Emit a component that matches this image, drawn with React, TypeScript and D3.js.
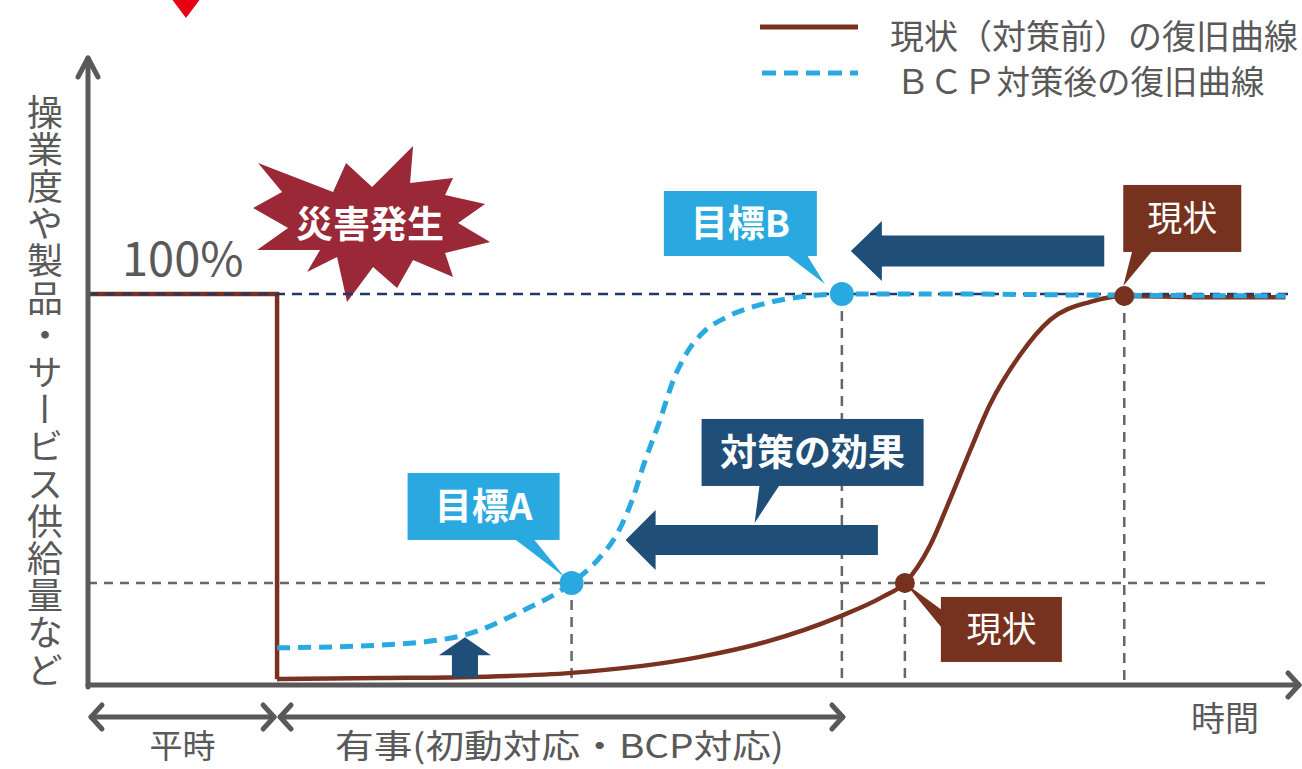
import React from 'react';
import * as d3 from 'd3';

const W = 1302;
const H = 769;

// time (arbitrary units) / operating level (%)
const disasterTime = 15.6;
const normalTime = [0, 15.6, 15.6];
const normalLevel = [100, 100, 1.5];

// 現状（対策前）の復旧曲線
const currentTime = [15.6, 24.1, 30.7, 39.9, 50.5, 56.0, 62.0, 65.6, 67.4, 69.5, 71.1, 72.8, 74.4, 76.9, 79.4, 82.7, 85.5, 91.7, 98.8];
const currentLevel = [1.5, 1.8, 2.0, 3.1, 7.2, 11.1, 17.5, 22.6, 26.1, 35.8, 47.3, 60.1, 71.6, 84.4, 93.4, 98.0, 99.5, 99.2, 99.2];

// ＢＣＰ対策後の復旧曲線
const bcpTime = [15.6, 24.1, 30.7, 35.6, 39.9, 42.2, 43.7, 44.9, 45.9, 47.2, 48.3, 49.4, 50.7, 52.7, 55.4, 58.2, 62.2, 71.1, 83.5, 98.8];
const bcpLevel = [9.5, 10.2, 12.5, 18.6, 26.1, 32.5, 38.9, 47.3, 56.8, 67.8, 78.0, 84.9, 90.0, 94.1, 97.2, 99.0, 100, 100, 99.7, 99.5];

// markers: 目標A, 目標B, 現状 (lower), 現状 (upper)
const markerLabels = ['目標A', '目標B', '現状', '現状'];
const markerTime = [39.9, 62.2, 67.4, 85.5];
const markerLevel = [26.1, 100, 26.1, 99.5];

const targetLevelA = 26.1;
const effectTime = 31.1;
const effectFrom = 1.9;
const effectTo = 12.2;

const legendLabels = ['現状（対策前）の復旧曲線', 'ＢＣＰ対策後の復旧曲線'];
const phaseLabels = ['平時', '有事(初動対応・BCP対応)'];
const yTitle = '操業度や製品・サービス供給量など';
const xTitle = '時間';

const C = {
  axis: '#595959',
  text: '#595959',
  brown: '#7A3220',
  brownBox: '#76321F',
  blue: '#29A9E0',
  navy: '#1F4E79',
  navyLine: '#1F3864',
  grid: '#666666',
  burst: '#9A2836',
  red: '#E60012',
};
const FONT = "'Noto Sans CJK JP', 'Noto Sans', sans-serif";

const x = d3.scaleLinear().domain([0, 100]).range([88, 1300]);
const y = d3.scaleLinear().domain([0, 100]).range([685, 294]);

const line = d3.line<[number, number]>().x(d => x(d[0])).y(d => y(d[1]));
const curve = d3.line<[number, number]>().x(d => x(d[0])).y(d => y(d[1])).curve(d3.curveMonotoneX);

const zip = (a: number[], b: number[]) => a.map((v, i) => [v, b[i]] as [number, number]);

// left-pointing block arrow
const leftArrow = (tip: number, end: number, cy: number, head: number, hh: number, bh: number) =>
  `M${tip},${cy} L${tip + head},${cy - hh} L${tip + head},${cy - bh} L${end},${cy - bh} L${end},${cy + bh} L${tip + head},${cy + bh} L${tip + head},${cy + hh} Z`;

const Callout = ({ bx, by, w, h, fill, tail, label, size, weight }: any) => (
  <g>
    <polygon points={tail.map((p: number[]) => p.join(',')).join(' ')} fill={fill} />
    <rect x={bx} y={by} width={w} height={h} fill={fill} />
    <text x={bx + w / 2} y={by + h / 2 + size * 0.36} textAnchor="middle" fill="#fff"
      fontSize={size} fontWeight={weight} fontFamily={FONT}>{label}</text>
  </g>
);

// starburst shape, relative to its centre
const burst = [
  [-112, -62], [-37, -33], [-24, -62], [2, -38], [43, -79], [40, -42], [83, -47], [75, -30],
  [115, -21], [88, -2], [120, 17], [75, 28], [83, 52], [43, 35], [27, 63], [3, 42],
  [-23, 77], [-33, 32], [-63, 47], [-50, 25], [-113, 25], [-82, 3], [-117, -17], [-88, -33],
];

export default function App() {
  const mx = markerTime.map(t => x(t));
  const my = markerLevel.map(v => y(v));
  const x0 = x(0), y0 = y(0), yTop = y(100);
  const xd = x(disasterTime);
  const bcx = xd + 93, bcy = yTop - 69;
  const bracketY = 717;

  const chevron = (px: number, py: number, dir: number) =>
    `M${px - dir * 11},${py - 12} L${px},${py} L${px - dir * 11},${py + 12}`;

  return (
    <svg width={W} height={H} style={{ position: 'absolute', left: 0, top: 0, background: '#fff' }}
      fontFamily={FONT}>
      {/* red marker at top */}
      <polygon points="171,-2 201,-2 186,18" fill={C.red} />

      {/* legend */}
      <line x1={760} x2={858} y1={27} y2={27} stroke={C.brown} strokeWidth={5} />
      <text x={890} y={49} fontSize={34} fill={C.text}>{legendLabels[0]}</text>
      <line x1={762} x2={858} y1={73} y2={73} stroke={C.blue} strokeWidth={5} strokeDasharray="14 8" />
      <text x={896} y={94} fontSize={33.5} fill={C.text}>{legendLabels[1]}</text>

      {/* y title */}
      <text x={45} y={94} fontSize={36} fill={C.text} style={{ writingMode: 'vertical-rl' } as any}
        letterSpacing={1.2}>{yTitle}</text>

      {/* reference dashed lines */}
      <line x1={x0} x2={x(97.5)} y1={y(targetLevelA)} y2={y(targetLevelA)} stroke={C.grid} strokeWidth={2.5} strokeDasharray="9 7" />
      {markerTime.map((t, i) => (
        <line key={i} x1={mx[i]} x2={mx[i]} y1={my[i]} y2={y0} stroke={C.grid} strokeWidth={2.5} strokeDasharray="10 7" />
      ))}

      {/* starburst */}
      <polygon points={burst.map(p => `${bcx + p[0]},${bcy + p[1]}`).join(' ')} fill={C.burst} />
      <text x={bcx} y={bcy + 13} textAnchor="middle" fontSize={37} fontWeight={700} fill="#fff">災害発生</text>

      {/* curves */}
      <path d={line(zip(normalTime, normalLevel)) || ''} fill="none" stroke={C.brown} strokeWidth={4.5} />
      <path d={curve(zip(currentTime, currentLevel)) || ''} fill="none" stroke={C.brown} strokeWidth={4.5} />
      <line x1={x0} x2={x(99.5)} y1={yTop} y2={yTop} stroke={C.navyLine} strokeWidth={2.5} strokeDasharray="10 7" />
      <path d={curve(zip(bcpTime, bcpLevel)) || ''} fill="none" stroke={C.blue} strokeWidth={5} strokeDasharray="13 8" />

      {/* 100% */}
      <text x={122} y={276} fontSize={47} fill={C.text}>100%</text>

      {/* axes */}
      <g stroke={C.axis} strokeWidth={5} fill="none" strokeLinecap="round" strokeLinejoin="round">
        <line x1={x0} x2={x0} y1={y0 + 2} y2={58} />
        <path d={`M${x0 - 10},${77} L${x0},${58} L${x0 + 10},${77}`} />
        <line x1={x0} x2={1299} y1={y0} y2={y0} />
        <path d={chevron(1299, y0, 1)} />
      </g>
      <text x={1191} y={731} fontSize={34} fill={C.text}>{xTitle}</text>

      {/* markers */}
      {markerTime.map((t, i) => (
        <circle key={i} cx={mx[i]} cy={my[i]} r={i < 2 ? 12 : 10} fill={i < 2 ? C.blue : C.brownBox} />
      ))}

      {/* up arrow: effect on initial level */}
      <path d={(() => {
        const cx = x(effectTime), b = y(effectFrom), t = y(effectTo);
        return `M${cx},${t} L${cx + 26},${t + 18} L${cx + 13},${t + 18} L${cx + 13},${b} L${cx - 13},${b} L${cx - 13},${t + 18} L${cx - 26},${t + 18} Z`;
      })()} fill={C.navy} />

      {/* effect arrows */}
      <path d={leftArrow(mx[0] + 54, mx[2] - 27, my[0] - 43, 30, 30, 15)} fill={C.navy} />
      <path d={leftArrow(mx[1] + 9, mx[3] - 20, my[1] - 43, 31, 30, 15.5)} fill={C.navy} />

      {/* callouts */}
      <Callout bx={mx[0] - 164} by={my[0] - 110} w={152} h={67} fill={C.blue} label={markerLabels[0]} size={37} weight={700}
        tail={[[mx[0] - 57, my[0] - 44], [mx[0] - 38, my[0] - 44], [mx[0] - 7, my[0] - 6]]} />
      <Callout bx={mx[1] - 178} by={my[1] - 103} w={153} h={65} fill={C.blue} label={markerLabels[1]} size={37} weight={700}
        tail={[[mx[1] - 55, my[1] - 39], [mx[1] - 35, my[1] - 39], [mx[1] - 17, my[1] - 10]]} />
      <Callout bx={mx[2] + 36} by={my[2] + 14} w={121} h={65} fill={C.brownBox} label={markerLabels[2]} size={35} weight={400}
        tail={[[mx[2], my[2]], [mx[2] + 37, my[2] + 27], [mx[2] + 37, my[2] + 45]]} />
      <Callout bx={mx[3] - 1} by={my[3] - 111} w={118} h={67} fill={C.brownBox} label={markerLabels[3]} size={35} weight={400}
        tail={[[mx[3] + 8, my[3] - 45], [mx[3] + 28, my[3] - 45], [mx[3] - 1, my[3] - 10]]} />
      <Callout bx={mx[0] + 130} by={my[0] - 164} w={222} h={67} fill={C.navy} label="対策の効果" size={37} weight={700}
        tail={[[mx[0] + 188, my[0] - 98], [mx[0] + 208, my[0] - 98], [mx[0] + 183, my[0] - 60]]} />

      {/* phase brackets */}
      <g stroke={C.axis} strokeWidth={5} fill="none" strokeLinecap="round" strokeLinejoin="round">
        <line x1={x0 + 3} x2={xd - 3} y1={bracketY} y2={bracketY} />
        <path d={chevron(x0 + 3, bracketY, -1)} />
        <path d={chevron(xd - 3, bracketY, 1)} />
        <line x1={xd + 3} x2={mx[1] + 1} y1={bracketY} y2={bracketY} />
        <path d={chevron(xd + 3, bracketY, -1)} />
        <path d={chevron(mx[1] + 1, bracketY, 1)} />
      </g>
      <text x={(x0 + xd) / 2} y={758} textAnchor="middle" fontSize={33} fill={C.text}>{phaseLabels[0]}</text>
      <text x={(xd + mx[1]) / 2} y={758} textAnchor="middle" fontSize={33} fill={C.text}
        textLength={449} lengthAdjust="spacingAndGlyphs">{phaseLabels[1]}</text>
    </svg>
  );
}
